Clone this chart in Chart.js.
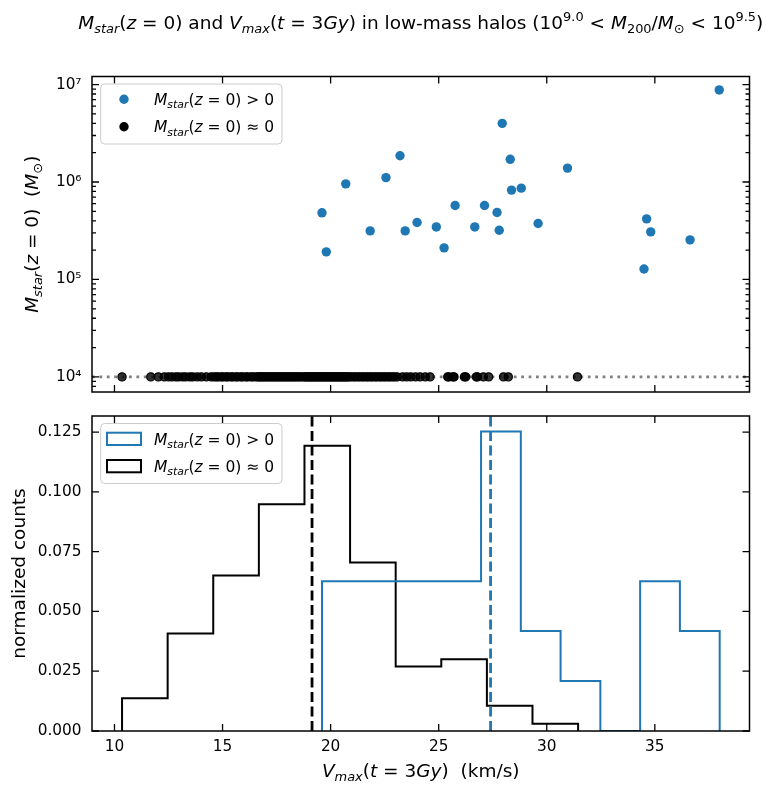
<!DOCTYPE html>
<html lang="en">
<head>
<meta charset="UTF-8">
<title>Stellar mass vs Vmax in low-mass halos</title>
<script src="https://cdn.jsdelivr.net/npm/chart.js"></script>
<style>
  body { margin: 0; background: #fff; }
  #wrap { position: relative; width: 767px; height: 785px; }
  #wrap canvas { position: absolute; left: 0; }
</style>
</head>
<body>
<div id="wrap">
  <canvas id="massPanel" width="767" height="400" style="top:0"></canvas>
  <canvas id="histPanel" width="767" height="385" style="top:400px"></canvas>
</div>
<script>
// shared x axis: Vmax at t = 3 Gyr (km/s)
const xMin = 8.96, xMax = 39.38;
const vTicks = [10, 15, 20, 25, 30, 35];
const vTickLabels = ['10', '15', '20', '25', '30', '35'];

// top panel: stellar mass (log)
const massMin = 7.0e3, massMax = 1.21e7;
const massTicks = [1e4, 1e5, 1e6, 1e7];
const massTickLabels = ['10⁴', '10⁵', '10⁶', '10⁷'];
const floorMass = 1e4; // where the starless halos are parked

// halos that host stars today
const litVmax = [19.60, 19.80, 20.70, 21.83, 22.56, 23.21, 23.45, 24.00, 24.89, 25.25,
                 25.76, 26.67, 27.12, 27.70, 27.80, 27.94, 28.31, 28.37, 28.82, 29.60,
                 30.96, 34.50, 34.62, 34.81, 36.63, 37.98];
const litMstar = [4.83e5, 1.92e5, 9.58e5, 3.15e5, 1.11e6, 1.86e6, 3.15e5, 3.84e5, 3.46e5, 2.11e5,
                  5.74e5, 3.46e5, 5.74e5, 4.86e5, 3.20e5, 4.00e6, 1.71e6, 8.26e5, 8.65e5, 3.75e5,
                  1.39e6, 1.28e5, 4.19e5, 3.08e5, 2.55e5, 8.81e6];

// halos with no stars today
const darkVmax = [
  10.35, 11.68, 12.03, 12.31,
  12.50, 12.66, 12.84, 12.97, 13.15, 13.29, 13.48, 13.62, 13.83, 14.02, 14.25, 14.47,
  14.60, 14.71, 14.80, 14.94, 15.03, 15.17, 15.25, 15.39, 15.48, 15.62, 15.70, 15.85,
  15.93, 16.08, 16.16, 16.31, 16.40, 16.53, 16.64,
  16.69, 16.77, 16.82, 16.91, 16.96, 17.06, 17.11, 17.21, 17.26, 17.35, 17.41, 17.51,
  17.56, 17.65, 17.71, 17.80, 17.85, 17.95, 18.00, 18.09, 18.15, 18.24, 18.29, 18.39,
  18.44, 18.54, 18.60, 18.71,
  18.80, 18.85, 18.93, 18.97, 19.05, 19.09, 19.17, 19.21, 19.29, 19.33, 19.41, 19.45,
  19.53, 19.57, 19.65, 19.69, 19.77, 19.81, 19.89, 19.93, 20.01, 20.05, 20.13, 20.17,
  20.25, 20.29, 20.37, 20.41, 20.49, 20.53, 20.61, 20.65, 20.73, 20.77, 20.86,
  20.94, 21.06, 21.14, 21.26, 21.34, 21.46, 21.54, 21.66, 21.74, 21.86, 21.94, 22.06,
  22.14, 22.26, 22.34, 22.46, 22.54, 22.66, 22.74, 22.86, 22.96,
  23.08, 23.33, 23.52, 23.71, 23.93, 24.14, 24.38, 24.60,
  25.42, 25.47, 25.66, 25.71, 26.19, 26.25, 26.74, 26.79, 27.07,
  27.31, 28.00, 28.22,
  31.42
];

// bottom panel: normalised histograms
const countMax = 0.1317;
const countTicks = [0, 0.025, 0.05, 0.075, 0.1, 0.125];
const countTickLabels = ['0.000', '0.025', '0.050', '0.075', '0.100', '0.125'];
const litEdges = [19.60, 21.44, 23.28, 25.12, 26.96, 28.80, 30.64, 32.48, 34.32, 36.16, 38.00];
const litDensity = [0.0626, 0.0626, 0.0626, 0.0626, 0.1252, 0.0418, 0.0209, 0, 0.0626, 0.0418];
const darkEdges = [10.35, 12.46, 14.57, 16.68, 18.79, 20.90, 23.01, 25.12, 27.23, 29.34, 31.45];
const darkDensity = [0.0137, 0.0408, 0.0650, 0.0948, 0.1193, 0.0705, 0.0270, 0.0300, 0.0106, 0.0030];
const litMedian = 27.40, darkMedian = 19.14;

const BLUE = '#1f77b4';
const FAMILY = '"DejaVu Sans", sans-serif';
const LABEL_SIZE = 18.5;
const LEGEND_SIZE = 15.5;

// --- little mathtext-ish renderer: [text, kind] runs ---
// kinds: r upright, i italic, sub italic subscript, subr upright subscript, sup superscript
function runFont(kind, size) {
  const small = kind === 'sub' || kind === 'subr' || kind === 'sup';
  const italic = kind === 'i' || kind === 'sub';
  return (italic ? 'italic ' : '') + (small ? size * 0.7 : size) + 'px ' + FAMILY;
}
function runShift(kind, size) {
  if (kind === 'sub' || kind === 'subr') return size * 0.22;
  if (kind === 'sup') return -size * 0.42;
  return 0;
}
function richWidth(ctx, runs, size) {
  let w = 0;
  runs.forEach(([t, k]) => { ctx.font = runFont(k, size); w += ctx.measureText(t).width; });
  return w;
}
function drawRich(ctx, runs, x, y, size, align) {
  let cx = align === 'center' ? x - richWidth(ctx, runs, size) / 2 : x;
  ctx.textAlign = 'left';
  ctx.textBaseline = 'alphabetic';
  ctx.fillStyle = '#000';
  runs.forEach(([t, k]) => {
    ctx.font = runFont(k, size);
    ctx.fillText(t, cx, y + runShift(k, size));
    cx += ctx.measureText(t).width;
  });
}

const mstar = [['M', 'i'], ['star', 'sub'], ['(', 'r'], ['z', 'i'], [' = 0)', 'r']];
const titleRuns = [...mstar, [' and ', 'r'], ['V', 'i'], ['max', 'sub'], ['(', 'r'], ['t', 'i'], [' = 3', 'r'],
  ['Gy', 'i'], [') in low-mass halos (10', 'r'], ['9.0', 'sup'], [' < ', 'r'], ['M', 'i'], ['200', 'subr'],
  ['/', 'r'], ['M', 'i'], ['⊙', 'subr'], [' < 10', 'r'], ['9.5', 'sup'], [')', 'r']];
const massTitleRuns = [...mstar, ['  (', 'r'], ['M', 'i'], ['⊙', 'subr'], [')', 'r']];
const vTitleRuns = [['V', 'i'], ['max', 'sub'], ['(', 'r'], ['t', 'i'], [' = 3', 'r'], ['Gy', 'i'], [')  (km/s)', 'r']];
const litLabel = [...mstar, [' > 0', 'r']];
const darkLabel = [...mstar, [' ≈ 0', 'r']];

// inward ticks on all four sides plus the axes frame
const axesFrame = {
  id: 'axesFrame',
  afterDatasetsDraw(chart, args, opts) {
    const { ctx, chartArea: a, scales } = chart;
    ctx.save();
    ctx.strokeStyle = '#000';
    ctx.lineWidth = 1.3;
    ctx.beginPath();
    vTicks.forEach(v => {
      const px = scales.x.getPixelForValue(v);
      ctx.moveTo(px, a.bottom); ctx.lineTo(px, a.bottom - 7);
      ctx.moveTo(px, a.top); ctx.lineTo(px, a.top + 7);
    });
    opts.yTicks.forEach(v => {
      const py = scales.y.getPixelForValue(v);
      ctx.moveTo(a.left, py); ctx.lineTo(a.left + 7, py);
      ctx.moveTo(a.right, py); ctx.lineTo(a.right - 7, py);
    });
    (opts.yMinor || []).forEach(v => {
      const py = scales.y.getPixelForValue(v);
      ctx.moveTo(a.left, py); ctx.lineTo(a.left + 4, py);
      ctx.moveTo(a.right, py); ctx.lineTo(a.right - 4, py);
    });
    ctx.stroke();
    ctx.lineWidth = 1.5;
    ctx.strokeRect(a.left, a.top, a.right - a.left, a.bottom - a.top);
    ctx.restore();
  }
};

function legendBox(ctx, a) {
  ctx.save();
  ctx.beginPath();
  ctx.roundRect(a.left + 8.7, a.top + 7.5, 181.3, 60, 4);
  ctx.fillStyle = 'rgba(255,255,255,0.8)';
  ctx.fill();
  ctx.strokeStyle = '#cccccc';
  ctx.lineWidth = 1;
  ctx.stroke();
  ctx.restore();
}

// fixed axis boxes so both panels share the same plot rectangle edges
function fixY(s) { s.width = 92; s.paddingTop = 0; s.paddingBottom = 0; }
function fixX(h) { return s => { s.height = h; s.paddingLeft = 0; s.paddingRight = 0; }; }

const massMinor = [];
for (let e = 3; e <= 7; e++) {
  for (let k = 2; k <= 9; k++) {
    const v = k * Math.pow(10, e);
    if (v > massMin && v < massMax) massMinor.push(v);
  }
}

const tickFont = { family: FAMILY, size: 15.3 };

// ---------- top panel: scatter ----------
new Chart(document.getElementById('massPanel'), {
  type: 'scatter',
  data: {
    datasets: [
      {
        label: 'lit',
        data: litVmax.map((v, i) => ({ x: v, y: litMstar[i] })),
        backgroundColor: BLUE, borderColor: BLUE, borderWidth: 0, pointRadius: 4.7
      },
      {
        label: 'dark',
        data: darkVmax.map(v => ({ x: v, y: floorMass })),
        backgroundColor: 'rgba(0,0,0,0.8)', borderColor: '#000', borderWidth: 1.2, pointRadius: 4.1
      },
      {
        type: 'line',
        label: 'floor',
        data: [{ x: xMin, y: floorMass }, { x: xMax, y: floorMass }],
        borderColor: '#808080', borderWidth: 2.6, borderDash: [2.8, 4.6], pointRadius: 0
      }
    ]
  },
  options: {
    responsive: false,
    animation: false,
    layout: { padding: { top: 76.5, right: 17.5, left: 0, bottom: 0 } },
    plugins: {
      legend: { display: false },
      tooltip: { enabled: false },
      axesFrame: { yTicks: massTicks, yMinor: massMinor }
    },
    scales: {
      x: {
        type: 'linear', min: xMin, max: xMax,
        grid: { display: false }, border: { display: false },
        ticks: { display: false },
        afterBuildTicks: s => { s.ticks = vTicks.map(v => ({ value: v })); },
        afterFit: fixX(8)
      },
      y: {
        type: 'logarithmic', min: massMin, max: massMax,
        grid: { display: false, drawTicks: false }, border: { display: false },
        afterBuildTicks: s => { s.ticks = massTicks.map(v => ({ value: v })); },
        ticks: {
          autoSkip: false, padding: 10.5, color: '#000', font: tickFont,
          callback: (v, i) => massTickLabels[i]
        },
        afterFit: fixY
      }
    }
  },
  plugins: [axesFrame, {
    id: 'massText',
    afterDraw(chart) {
      const { ctx, chartArea: a } = chart;
      legendBox(ctx, a);
      ctx.save();
      ctx.fillStyle = BLUE;
      ctx.beginPath(); ctx.arc(a.left + 32, a.top + 22.8, 4.7, 0, Math.PI * 2); ctx.fill();
      ctx.fillStyle = '#000';
      ctx.beginPath(); ctx.arc(a.left + 32, a.top + 50.2, 4.7, 0, Math.PI * 2); ctx.fill();
      drawRich(ctx, litLabel, a.left + 62, a.top + 28.5, LEGEND_SIZE, 'left');
      drawRich(ctx, darkLabel, a.left + 62, a.top + 55.9, LEGEND_SIZE, 'left');
      drawRich(ctx, titleRuns, (a.left + a.right) / 2, 29, LABEL_SIZE, 'center');
      ctx.translate(37.5, (a.top + a.bottom) / 2);
      ctx.rotate(-Math.PI / 2);
      drawRich(ctx, massTitleRuns, 0, 0, LABEL_SIZE, 'center');
      ctx.restore();
    }
  }]
});

// ---------- bottom panel: step histograms ----------
function stepPoints(edges, dens) {
  const pts = [{ x: edges[0], y: 0 }];
  dens.forEach((d, i) => pts.push({ x: edges[i + 1], y: d }));
  pts.push({ x: edges[edges.length - 1], y: 0 });
  return pts;
}

new Chart(document.getElementById('histPanel'), {
  type: 'line',
  data: {
    datasets: [
      {
        label: 'lit median',
        data: [{ x: litMedian, y: 0 }, { x: litMedian, y: countMax }],
        borderColor: BLUE, borderWidth: 2.8, borderDash: [10, 4.5], pointRadius: 0
      },
      {
        label: 'dark median',
        data: [{ x: darkMedian, y: 0 }, { x: darkMedian, y: countMax }],
        borderColor: '#000', borderWidth: 2.8, borderDash: [10, 4.5], pointRadius: 0
      },
      {
        label: 'lit',
        data: stepPoints(litEdges, litDensity),
        stepped: 'after', borderColor: BLUE, borderWidth: 2, pointRadius: 0
      },
      {
        label: 'dark',
        data: stepPoints(darkEdges, darkDensity),
        stepped: 'after', borderColor: '#000', borderWidth: 2, pointRadius: 0
      }
    ]
  },
  options: {
    responsive: false,
    animation: false,
    layout: { padding: { top: 16, right: 17.5, left: 0, bottom: 0 } },
    plugins: {
      legend: { display: false },
      tooltip: { enabled: false },
      axesFrame: { yTicks: countTicks }
    },
    scales: {
      x: {
        type: 'linear', min: xMin, max: xMax,
        grid: { display: false, drawTicks: false }, border: { display: false },
        afterBuildTicks: s => { s.ticks = vTicks.map(v => ({ value: v })); },
        ticks: {
          autoSkip: false, maxRotation: 0, padding: 7, color: '#000', font: tickFont,
          callback: (v, i) => vTickLabels[i]
        },
        afterFit: fixX(54)
      },
      y: {
        type: 'linear', min: 0, max: countMax,
        grid: { display: false, drawTicks: false }, border: { display: false },
        afterBuildTicks: s => { s.ticks = countTicks.map(v => ({ value: v })); },
        ticks: {
          autoSkip: false, padding: 10.5, color: '#000', font: tickFont,
          callback: (v, i) => countTickLabels[i]
        },
        afterFit: fixY
      }
    }
  },
  plugins: [axesFrame, {
    id: 'histText',
    afterDraw(chart) {
      const { ctx, chartArea: a } = chart;
      legendBox(ctx, a);
      ctx.save();
      ctx.lineWidth = 2;
      ctx.fillStyle = '#fff';
      ctx.strokeStyle = BLUE;
      ctx.fillRect(a.left + 15, a.top + 16.7, 34, 12.3);
      ctx.strokeRect(a.left + 15, a.top + 16.7, 34, 12.3);
      ctx.strokeStyle = '#000';
      ctx.fillRect(a.left + 15, a.top + 44, 34, 12.3);
      ctx.strokeRect(a.left + 15, a.top + 44, 34, 12.3);
      drawRich(ctx, litLabel, a.left + 62, a.top + 28.5, LEGEND_SIZE, 'left');
      drawRich(ctx, darkLabel, a.left + 62, a.top + 55.9, LEGEND_SIZE, 'left');
      drawRich(ctx, vTitleRuns, (a.left + a.right) / 2, 377, LABEL_SIZE, 'center');
      ctx.translate(25, (a.top + a.bottom) / 2);
      ctx.rotate(-Math.PI / 2);
      drawRich(ctx, [['normalized counts', 'r']], 0, 0, LABEL_SIZE, 'center');
      ctx.restore();
    }
  }]
});
</script>
</body>
</html>
